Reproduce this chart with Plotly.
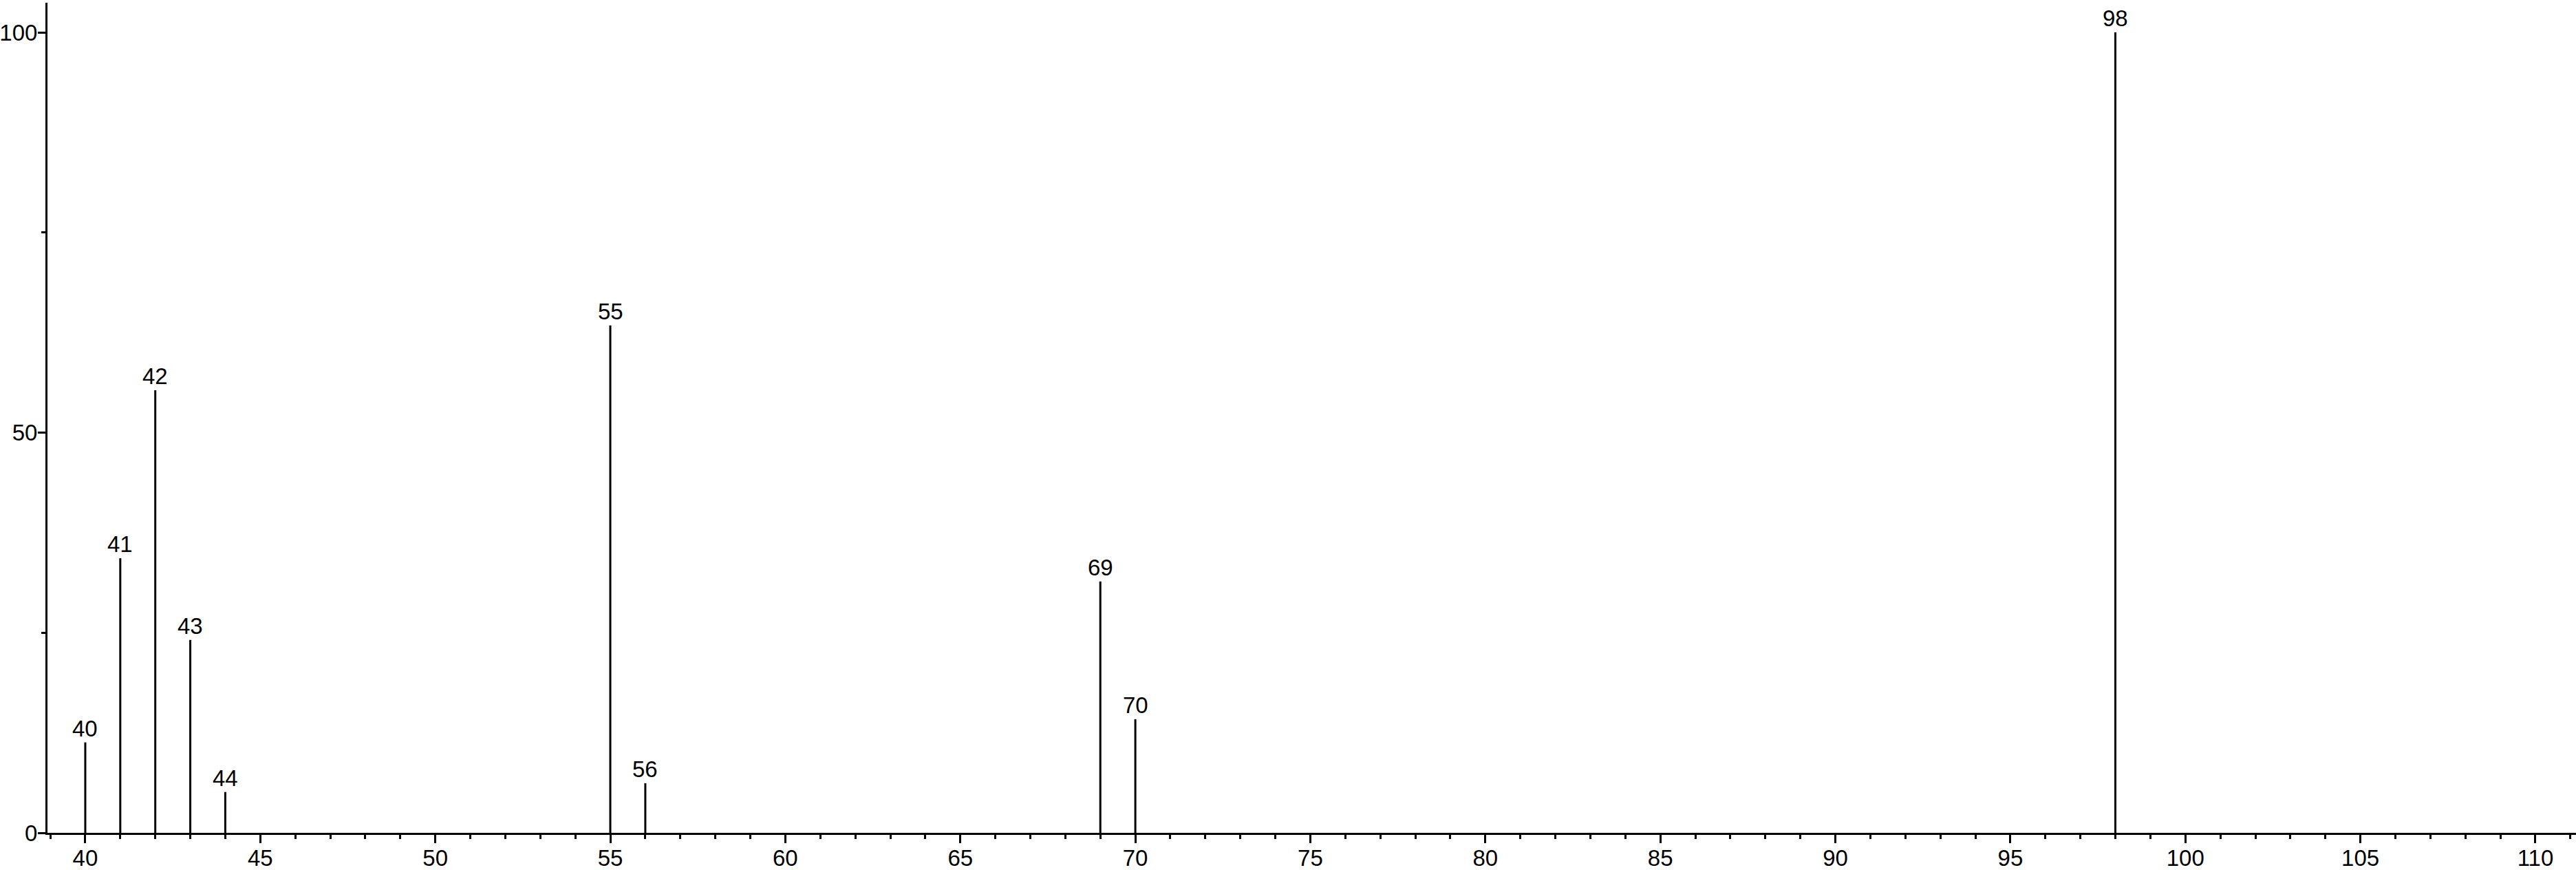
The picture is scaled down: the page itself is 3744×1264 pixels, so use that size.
import plotly.graph_objects as go

# m/z values and relative intensities
mz = [40, 41, 42, 43, 44, 55, 56, 69, 70, 98]
intensity = [11.3, 34.3, 55.3, 24.1, 5.1, 63.4, 6.2, 31.4, 14.2, 100.0]
peak_labels = [str(m) for m in mz]

x_major_ticks = list(range(40, 111, 5))
y_major_ticks = [0, 50, 100]

FONT = "Liberation Sans, Arial, Helvetica, sans-serif"
FS = 33

xs, ys = [], []
for m, v in zip(mz, intensity):
    xs += [m, m, None]
    ys += [0, v, None]

fig = go.Figure()
fig.add_trace(go.Scatter(x=xs, y=ys, mode="lines",
                         line=dict(color="black", width=3),
                         hoverinfo="skip", showlegend=False))

for m, v, lab in zip(mz, intensity, peak_labels):
    fig.add_annotation(x=m, y=v, text=lab, showarrow=False,
                       xanchor="center", yanchor="bottom", yshift=0,
                       font=dict(family=FONT, size=FS, color="black"))

fig.update_layout(
    width=3744, height=1264,
    margin=dict(l=69, r=0, t=4, b=54),
    paper_bgcolor="white", plot_bgcolor="white",
    font=dict(family=FONT, size=FS, color="black"),
    showlegend=False,
)
fig.update_xaxes(
    range=[38.92, 111.16], tickvals=x_major_ticks,
    ticktext=[str(t) for t in x_major_ticks],
    automargin=False,
    showgrid=False, zeroline=False,
    showline=True, linecolor="black", linewidth=3,
    ticks="outside", ticklen=12, tickwidth=3, tickcolor="black",
    ticklabelstandoff=-7,
    tickfont=dict(family=FONT, size=FS, color="black"),
    minor=dict(dtick=1, tick0=0, ticks="outside", ticklen=6, tickwidth=3,
               tickcolor="black", showgrid=False),
)
fig.update_yaxes(
    range=[0, 103.7], tickvals=y_major_ticks,
    ticktext=[str(t) for t in y_major_ticks],
    automargin=False,
    showgrid=False, zeroline=False,
    showline=True, linecolor="black", linewidth=3,
    ticks="outside", ticklen=11, tickwidth=3, tickcolor="black",
    ticklabelstandoff=-6,
    tickfont=dict(family=FONT, size=FS, color="black"),
    minor=dict(dtick=25, tick0=0, ticks="outside", ticklen=6, tickwidth=3,
               tickcolor="black", showgrid=False),
)

fig.write_html(
    "out.html",
    config={"displayModeBar": False},
    post_script="document.body.style.margin='0';document.body.style.padding='0';"
                "document.documentElement.style.overflow='hidden';",
)
